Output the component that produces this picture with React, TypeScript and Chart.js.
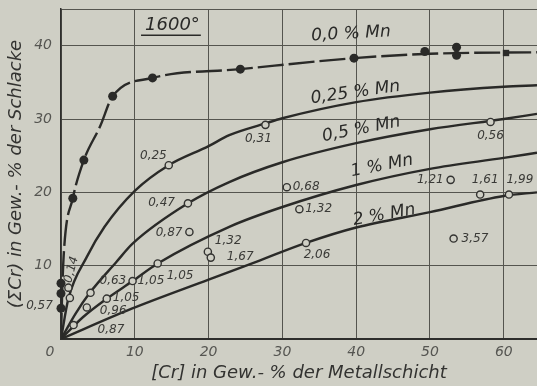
import React, { useEffect, useRef } from 'react';
import { Chart, registerables } from 'chart.js';

Chart.register(...registerables);

const BG = '#cfcfc5';
const INK = '#2a2a28';
const GRID = '#55554f';
const FONT = '"DejaVu Sans"';

// axis ticks
const xTicks = [0, 10, 20, 30, 40, 50, 60];
const yTicks = [0, 10, 20, 30, 40];
const xMax = 64.5;
const yMax = 45;

// fitted curves
const mn00X = [0, 0.15, 0.4, 1.6, 3.1, 5.3, 7.0, 12.4, 24.3, 39.7, 50, 64.5];
const mn00Y = [0, 6, 12, 19.2, 24.4, 29.0, 33.1, 35.6, 36.8, 38.3, 38.9, 39.1];

const mn025X = [0, 1.0, 3.5, 5.9, 10, 14.6, 20, 22.8, 27.7, 30, 40, 50, 60, 64.5];
const mn025Y = [0, 5.5, 11.2, 15.3, 20.2, 23.7, 26.3, 27.8, 29.4, 30.1, 32.3, 33.6, 34.4, 34.6];

const mn05X = [0, 2, 3.9, 7.5, 9.7, 17.2, 22.8, 30, 40, 50, 60, 64.5];
const mn05Y = [0, 3.5, 6.3, 10.5, 13.0, 18.5, 21.4, 24.1, 26.7, 28.6, 30.0, 30.7];

const mn1X = [0, 3, 6.2, 9.7, 13.1, 22.8, 30, 40, 50, 60, 64.5];
const mn1Y = [0, 3, 5.5, 7.9, 10.3, 15.3, 18.0, 21.0, 23.2, 24.7, 25.4];

const mn2X = [0, 9.5, 20, 26.9, 33.2, 40, 50, 60, 64.5];
const mn2Y = [0, 4.1, 8.1, 10.7, 13.1, 15.2, 17.3, 19.5, 20.0];

// measured points, 0 % Mn (filled)
const filledX = [0, 0, 0, 1.6, 3.1, 7.0, 12.4, 24.3, 39.7, 49.3, 53.6, 53.6];
const filledY = [7.6, 6.2, 4.2, 19.2, 24.4, 33.1, 35.6, 36.8, 38.3, 39.2, 39.8, 38.7];
const squareX = [60.3];
const squareY = [39.0];

// measured points with Mn content (open)
const openX = [1.0, 1.2, 3.5, 4.0, 6.2, 1.7, 9.7, 13.1, 14.6, 17.2, 17.4, 19.9, 20.3, 27.7, 30.6, 32.3, 33.2, 52.8, 53.2, 56.8, 58.2, 60.7];
const openY = [7.0, 5.6, 4.3, 6.3, 5.5, 1.9, 7.9, 10.3, 23.7, 18.5, 14.6, 11.9, 11.1, 29.2, 20.7, 17.7, 13.1, 21.7, 13.7, 19.7, 29.6, 19.7];
const openLabels = ['0,14', '0,57', '0,96', '0,63', '1,05', '0,87', '1,05', '1,05', '0,25', '0,47', '0,87', '1,32', '1,67', '0,31', '0,68', '1,32', '2,06', '1,21', '3,57', '1,61', '0,56', '1,99'];
// label placement: [dx, dy, align, rotationDeg]
const openLabelPlace: [number, number, CanvasTextAlign, number][] = [
  [3, -18, 'center', -75], [-17, 8, 'right', 0], [13, 3, 'left', 0], [9, -12, 'left', 0],
  [6, -1, 'left', 0], [24, 5, 'left', 0], [5, 0, 'left', 0], [9, 12, 'left', 0],
  [-2, -9, 'right', 0], [-13, 0, 'right', 0], [-7, 1, 'right', 0], [7, -11, 'left', 0],
  [16, -1, 'left', 0], [-7, 14, 'center', 0], [6, 0, 'left', 0], [6, 0, 'left', 0],
  [11, 12, 'center', 0], [-7, 0, 'right', 0], [8, 0, 'left', 0], [5, -15, 'center', 0],
  [0, 14, 'center', 0], [11, -15, 'center', 0],
];

// curve captions
const curveNames = ['0,0 % Mn', '0,25 % Mn', '0,5 % Mn', '1 % Mn', '2 % Mn'];
const curveNameX = [39.3, 39.9, 40.7, 43.5, 43.8];
const curveNameY = [41.6, 33.6, 28.6, 23.6, 16.9];
const curveNameAngle = [-3, -8, -11, -11, -10];

const tempLabel = '1600°';
const tempX = 15.1;
const tempY = 42.8;

const toPts = (xs: number[], ys: number[]) => xs.map((x, i) => ({ x, y: ys[i] }));

const annotate = {
  id: 'annotate',
  beforeDraw(chart: any) {
    const { ctx, width, height } = chart;
    ctx.save();
    ctx.fillStyle = BG;
    ctx.fillRect(0, 0, width, height);
    ctx.restore();
  },
  afterDatasetsDraw(chart: any) {
    const { ctx } = chart;
    const xs = chart.scales.x;
    const ys = chart.scales.y;
    ctx.save();
    // point labels
    const meta = chart.getDatasetMeta(2);
    ctx.fillStyle = '#3a3a37';
    ctx.font = `italic 12px ${FONT}`;
    ctx.textBaseline = 'middle';
    meta.data.forEach((el: any, i: number) => {
      const [dx, dy, align, rot] = openLabelPlace[i];
      ctx.save();
      ctx.translate(el.x + dx, el.y + dy);
      ctx.rotate((rot * Math.PI) / 180);
      ctx.textAlign = align;
      ctx.fillText(openLabels[i], 0, 0);
      ctx.restore();
    });
    // curve names
    ctx.fillStyle = INK;
    ctx.font = `italic 17px ${FONT}`;
    ctx.textAlign = 'center';
    ctx.textBaseline = 'middle';
    curveNames.forEach((t, i) => {
      ctx.save();
      ctx.translate(xs.getPixelForValue(curveNameX[i]), ys.getPixelForValue(curveNameY[i]));
      ctx.rotate((curveNameAngle[i] * Math.PI) / 180);
      ctx.fillText(t, 0, 0);
      ctx.restore();
    });
    // temperature
    const tx = xs.getPixelForValue(tempX);
    const ty = ys.getPixelForValue(tempY);
    ctx.font = `italic 18px ${FONT}`;
    ctx.fillText(tempLabel, tx, ty);
    const w = ctx.measureText(tempLabel).width;
    ctx.strokeStyle = INK;
    ctx.lineWidth = 1.5;
    ctx.beginPath();
    ctx.moveTo(tx - w / 2 - 4, ty + 10);
    ctx.lineTo(tx + w / 2 + 1, ty + 10);
    ctx.stroke();
    ctx.restore();
  },
};

export default function App() {
  const ref = useRef<HTMLCanvasElement | null>(null);
  useEffect(() => {
    if (!ref.current) return;
    const curve = (xs: number[], ys: number[], dash: number[] = []) => ({
      type: 'line',
      data: toPts(xs, ys),
      borderColor: INK,
      borderWidth: 2.4,
      borderDash: dash,
      pointRadius: 0,
      fill: false,
      cubicInterpolationMode: 'monotone',
    });
    const chart = new Chart(ref.current, {
      type: 'line',
      data: {
        datasets: [
          {
            type: 'scatter', data: toPts(filledX, filledY), pointRadius: 4.5,
            backgroundColor: INK, borderColor: INK, borderWidth: 0, clip: false, showLine: false,
          } as any,
          {
            type: 'scatter', data: toPts(squareX, squareY), pointRadius: 4.5, pointStyle: 'rect',
            backgroundColor: INK, borderColor: INK, borderWidth: 0, clip: false, showLine: false,
          } as any,
          {
            type: 'scatter', data: toPts(openX, openY), pointRadius: 3.6,
            backgroundColor: BG, borderColor: '#333331', borderWidth: 1.4, clip: false, showLine: false,
          } as any,
          curve(mn00X, mn00Y, [26, 5]) as any,
          curve(mn025X, mn025Y) as any,
          curve(mn05X, mn05Y) as any,
          curve(mn1X, mn1Y) as any,
          curve(mn2X, mn2Y) as any,
        ],
      },
      options: {
        responsive: false,
        animation: false,
        devicePixelRatio: 1,
        layout: { autoPadding: false, padding: { top: 9, right: 0, bottom: 0, left: 0 } },
        plugins: { legend: { display: false }, tooltip: { enabled: false } },
        scales: {
          x: {
            type: 'linear', min: 0, max: xMax,
            afterBuildTicks: (s: any) => { s.ticks = [...xTicks, xMax].map((v) => ({ value: v })); },
            afterFit: (s: any) => { s.height = 47; },
            grid: { color: GRID, lineWidth: 1, drawTicks: true, tickLength: 5, tickColor: 'rgba(0,0,0,0)' },
            border: { color: '#2e2e2c', width: 2 },
            ticks: {
              padding: 0, color: '#565652', autoSkip: false, maxRotation: 0,
              font: { family: FONT, style: 'italic', size: 14 },
              callback: (v: any) => (v === 0 ? '0     ' : xTicks.includes(v) ? String(v) : ''),
            },
            title: {
              display: true, text: '[Cr] in Gew.- % der Metallschicht', color: '#333331',
              font: { family: FONT, style: 'italic', size: 18 }, padding: { top: 0, bottom: 2 },
            },
          },
          y: {
            type: 'linear', min: 0, max: yMax,
            afterBuildTicks: (s: any) => { s.ticks = [...yTicks, yMax].map((v) => ({ value: v })); },
            afterFit: (s: any) => { s.width = 61; },
            grid: { color: GRID, lineWidth: 1, drawTicks: true, tickLength: 9, tickColor: 'rgba(0,0,0,0)' },
            border: { color: '#2e2e2c', width: 1.5 },
            ticks: {
              padding: 0, color: '#565652',
              font: { family: FONT, style: 'italic', size: 14 },
              callback: (v: any) => (v === 0 || !yTicks.includes(v) ? '' : String(v)),
            },
            title: {
              display: true, text: '(ΣCr) in Gew.- % der Schlacke', color: '#333331',
              font: { family: FONT, style: 'italic', size: 18 }, padding: { top: 6, bottom: 0 },
            },
          },
        },
      } as any,
      plugins: [annotate],
    } as any);
    return () => chart.destroy();
  }, []);
  return (
    <div style={{ position: 'fixed', left: 0, top: 0, width: 537, height: 386, background: BG }}>
      <canvas ref={ref} width={537} height={386} />
    </div>
  );
}
